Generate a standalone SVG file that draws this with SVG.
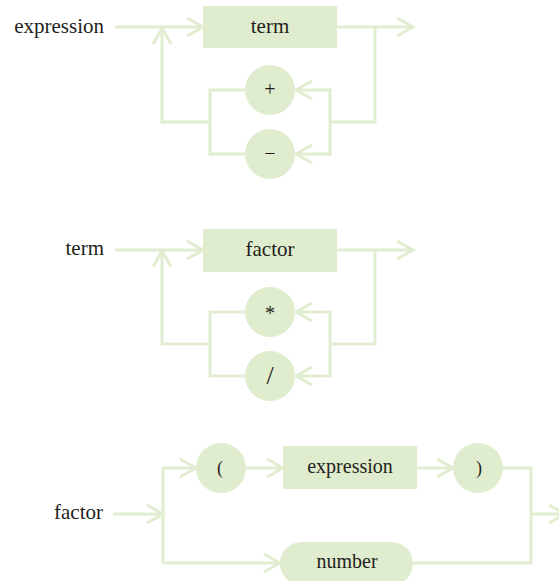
<svg xmlns="http://www.w3.org/2000/svg" width="559" height="581" viewBox="0 0 559 581">
<style>
.conn{fill:none;stroke:#e1edd1;stroke-width:3}
.box{fill:#e0ecce}
text{font-family:'Liberation Serif','DejaVu Serif',serif;font-size:21px;fill:#231f20}
.m{text-anchor:middle}
.e{text-anchor:end}
</style>
<defs>
<marker id="arr" markerUnits="userSpaceOnUse" markerWidth="40" markerHeight="40" viewBox="-20 -20 40 40" refX="0" refY="0" orient="auto" overflow="visible">
<path d="M-16,-9 L0,0 L-16,9" fill="none" stroke="#e1edd1" stroke-width="3"/>
</marker>
</defs>
<rect width="559" height="581" fill="#ffffff"/>
<g id="connectors">
<path class="conn" d="M115,27 H203" marker-end="url(#arr)"/>
<path class="conn" d="M337,27 H413" marker-end="url(#arr)"/>
<path class="conn" d="M375,27 V122 H330"/>
<path class="conn" d="M330,122 V90 H296" marker-end="url(#arr)"/>
<path class="conn" d="M330,122 V154 H296" marker-end="url(#arr)"/>
<path class="conn" d="M245,90 H210 V154 H245"/>
<path class="conn" d="M210,122 H162 V28" marker-end="url(#arr)"/>
<path class="conn" d="M115,250 H203" marker-end="url(#arr)"/>
<path class="conn" d="M337,250 H413" marker-end="url(#arr)"/>
<path class="conn" d="M375,250 V344 H330"/>
<path class="conn" d="M330,344 V312 H296" marker-end="url(#arr)"/>
<path class="conn" d="M330,344 V376 H296" marker-end="url(#arr)"/>
<path class="conn" d="M245,312 H210 V376 H245"/>
<path class="conn" d="M210,344 H162 V251" marker-end="url(#arr)"/>
<path class="conn" d="M113,514 H163" marker-end="url(#arr)"/>
<path class="conn" d="M163,468 V563"/>
<path class="conn" d="M163,468 H196" marker-end="url(#arr)"/>
<path class="conn" d="M246,468 H283" marker-end="url(#arr)"/>
<path class="conn" d="M417,468 H453" marker-end="url(#arr)"/>
<path class="conn" d="M503,468 H531 V563 H413"/>
<path class="conn" d="M531,514 H565" marker-end="url(#arr)"/>
<path class="conn" d="M163,563 H280" marker-end="url(#arr)"/>
</g>
<g id="labels">
<text class="e" x="104" y="33" font-family="Liberation Serif, serif">expression</text>
<text class="e" x="104" y="255" font-family="Liberation Serif, serif">term</text>
<text class="e" x="103" y="519" font-family="Liberation Serif, serif">factor</text>
</g>
<g id="n-term1"><rect class="box" x="203" y="6" width="134" height="42"/><text class="m" x="270" y="33">term</text></g>
<g id="n-plus"><circle class="box" cx="270" cy="90" r="25"/><text class="m" x="270" y="96" style="font-size:20px">+</text></g>
<g id="n-minus"><circle class="box" cx="270" cy="154" r="25"/><text class="m" x="270" y="160" style="font-size:20px">−</text></g>
<g id="n-factor1"><rect class="box" x="203" y="229" width="134" height="43"/><text class="m" x="270" y="256">factor</text></g>
<g id="n-times"><circle class="box" cx="270" cy="312" r="25"/><text class="m" x="270" y="320" style="font-size:20px">*</text></g>
<g id="n-div"><circle class="box" cx="270" cy="376" r="25"/><text class="m" x="270" y="384" style="font-size:26px">/</text></g>
<g id="n-lparen"><circle class="box" cx="221" cy="468" r="25"/><text class="m" x="220" y="474" style="font-size:18px">(</text></g>
<g id="n-expr2"><rect class="box" x="283" y="446" width="134" height="43"/><text class="m" x="350" y="473" style="font-size:20px">expression</text></g>
<g id="n-rparen"><circle class="box" cx="478" cy="468" r="25"/><text class="m" x="479" y="474" style="font-size:18px">)</text></g>
<g id="n-number"><rect class="box" x="280" y="542" width="133" height="43" rx="21.5"/><text class="m" x="347" y="568" style="font-size:20px">number</text></g>
</svg>
